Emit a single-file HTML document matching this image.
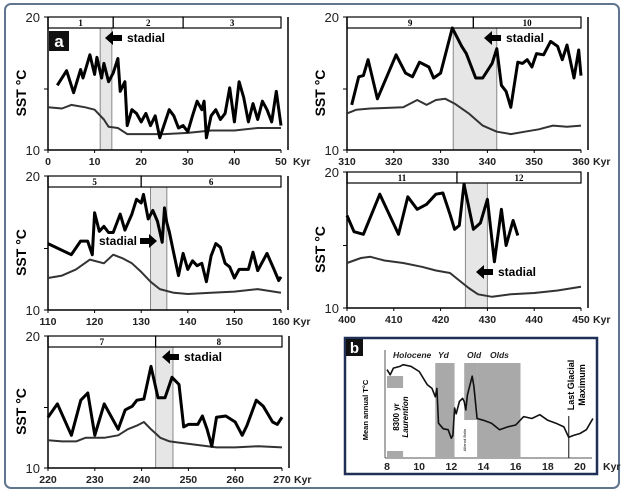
<!DOCTYPE html>
<html><head><meta charset="utf-8">
<style>
html,body{margin:0;padding:0;background:#fff;}
svg{display:block;font-family:"Liberation Sans",sans-serif;}
</style></head>
<body>
<svg id="fig" width="625" height="493" viewBox="0 0 625 493" xmlns="http://www.w3.org/2000/svg">
<rect x="5" y="4" width="614" height="484" rx="6" fill="#fff" stroke="#5f7590" stroke-width="2"/>
<g id="root"></g>
</svg>
<script>
// ---------- Panel data ----------
const p1Upper = [[2,15.3],[4,16.5],[5.5,14.7],[7,16.6],[7.5,15.9],[9,17.8],[10,16.2],[10.5,17.6],[11.5,15.9],[12,17.1],[13,15.6],[14,16.3],[15,17.5],[15.5,14.8],[16.5,15.6],[17,12],[18,13.3],[19,13],[20,12.3],[21,13],[22,12],[23,12.8],[24,11],[26,13.3],[27,12.8],[28,11.8],[29,12],[30,11.5],[31,12.8],[32,14],[33,13.3],[33.5,14],[34,11],[35,12.8],[36,13.3],[37,12.5],[38,13],[39,15.1],[40,12.3],[41,15.6],[42,14.3],[43,12.3],[44,13.8],[45,12.5],[46,14],[47,13.3],[48,12.3],[49,14.8],[50,12]];
const p1Lower = [[0,13.5],[3,13.4],[5,13.7],[8,13.5],[10,13.3],[12,12.5],[13,11.9],[15,11.8],[17,11.3],[20,11.3],[25,11.3],[30,11.4],[35,11.6],[40,11.6],[45,11.8],[50,11.8]];
const p1Shade = [11.2,13.7];
const p1Stages = [[0,14,"1"],[14,29,"2"],[29,50,"3"]];

const p9Upper = [[311,13.7],[312.5,16],[313.5,16.1],[314.5,17.4],[316.5,14.2],[320.5,17.8],[322.5,16.3],[324,16],[325.5,17.2],[327.5,16.8],[328.5,15.9],[330,16.3],[332.5,20],[334.5,18.5],[335.5,17.9],[337.5,15.9],[339,15.9],[341,17.1],[342,18.3],[343,15.3],[344,14.8],[345,13.5],[346.5,17.2],[347.5,17.1],[348.5,17.4],[349.5,16.8],[350.5,17.9],[352,17.8],[353.5,18.9],[355,18.5],[356,17.4],[357,18.6],[358.5,15.9],[359.5,18.2],[360,16.1]];
const p9Lower = [[310,13],[312,13.3],[315,13.4],[322,13.5],[325,14.1],[327,13.7],[329,14.1],[331,14.2],[333,13.8],[336,13],[339,12],[342,11.5],[345,11.3],[348,11.5],[351,11.7],[354,12],[357,11.9],[360,12]];
const p9Shade = [332.7,342];
const p9Stages = [[310,337,"9"],[337,360,"10"]];

const p5Upper = [[110,15.4],[115,14.5],[117,15.6],[118.5,15.6],[119.5,14.5],[120,17.9],[121,16.4],[122,16.8],[123,16.3],[124,16.3],[125.5,17.8],[126.5,16.5],[128,17.8],[129,19],[130,18.7],[130.5,19.4],[131.5,17.4],[132.5,18.1],[133.5,17.2],[134.5,15.5],[135,18.3],[135.5,17.1],[136,16.4],[137,14.6],[138,12.8],[139,14.6],[140,13.3],[141,14],[142,13.6],[143,13.8],[144,12.3],[145,14.4],[146,15.4],[147,15.1],[148,13.8],[149,13.5],[150,12.6],[151,13.3],[152,13.3],[153,13.3],[154,14.7],[155,13.2],[157,14.6],[158.5,13.3],[159.5,12.4],[160,12.7]];
const p5Lower = [[110,12.6],[113,12.8],[116,13.3],[119,14.1],[122,13.8],[124,14.5],[126,14.2],[128,13.8],[130,13.1],[132,12.3],[134,11.7],[137,11.4],[140,11.3],[145,11.4],[150,11.5],[155,11.7],[160,11.4]];
const p5Shade = [132,135.5];
const p5Stages = [[110,130,"5"],[130,160,"6"]];

const p11Upper = [[400,17.4],[401.5,16.1],[403.5,15.9],[407,19.1],[411,15.9],[413,18.9],[415,17.9],[417,18.3],[419,19.1],[420.5,19.2],[422,17.5],[423,16.3],[424,16.6],[425,19.9],[427,16.3],[428.5,16.8],[430,18.7],[431.5,13.7],[433,17.9],[434,15],[435.5,17],[436.5,15.8]];
const p11Lower = [[400,13.6],[403,14],[405,14.1],[408,13.8],[412,13.6],[416,13.3],[419,13],[422,12.8],[424,12.2],[426,11.6],[428,11.1],[431,10.9],[435,11.1],[440,11.2],[445,11.4],[450,11.7]];
const p11Shade = [425.3,430];
const p11Stages = [[400,423.5,"11"],[423.5,450,"12"]];

const p7Upper = [[220,14.2],[222,15.3],[225,12.7],[227,15.6],[228.5,16.2],[230,12.7],[232,15.3],[235,13.2],[236.5,14.8],[238,15.1],[239,15.6],[240.5,15.7],[242,18.4],[243.5,15.8],[245,15.8],[246.5,17.5],[248,16.9],[249,13.4],[250,13.6],[252,13.6],[253,14.3],[254,13.2],[255,11.8],[256,14.2],[258,14.3],[260,13.8],[261.5,12.7],[262.5,13.5],[264.5,15.6],[266,15.1],[268,13.8],[269,13.6],[270,14.2]];
const p7Lower = [[220,12.3],[223,12.2],[226,12.2],[228,12.5],[232,12.5],[235,12.7],[237,13.2],[239,13.5],[240.5,13.8],[242,13.2],[244,12.5],[246,12.2],[248,12.1],[252,11.9],[256,11.7],[260,11.7],[265,11.8],[270,11.7]];
const p7Shade = [243,246.7];
const p7Stages = [[220,243,"7"],[243,270,"8"]];

const pbCurve = [[8,9.3],[8.2,8.75],[8.4,9.46],[8.8,9.64],[9,9.82],[9.5,9.64],[10,9.1],[10.5,7.7],[10.8,7.3],[11,6.4],[11.1,7.3],[11.2,3.6],[11.5,3.0],[11.8,2.9],[12,2.0],[12.1,2.3],[12.2,5.2],[12.3,4.6],[12.5,5.9],[12.7,6.25],[12.8,5.9],[12.9,5.0],[13,6.6],[13.3,8.6],[13.4,7.5],[13.6,4.1],[14,3.9],[14.5,3.6],[15,2.9],[15.5,3.2],[16,3.4],[16.5,4.3],[17,4.1],[17.5,4.5],[18,3.9],[18.5,3.6],[19,3.2],[19.3,2.1],[19.6,2.3],[20,2.5],[20.4,2.9],[20.8,4.1]];
const pbTicks = [8,10,12,14,16,18,20];

// ---------- drawing ----------
const NS = "http://www.w3.org/2000/svg";
const root = document.getElementById('root');
function mk(tag, attrs, parent, text){
  const e = document.createElementNS(NS, tag);
  for (const k in attrs) e.setAttribute(k, attrs[k]);
  if (text !== undefined) e.textContent = text;
  (parent||root).appendChild(e);
  return e;
}
function linScale(d0,d1,r0,r1){ return v => r0 + (v-d0)*(r1-r0)/(d1-d0); }
function pathOf(pts, sx, sy){ return pts.map((p,i)=>(i?'L':'M')+sx(p[0]).toFixed(1)+' '+sy(p[1]).toFixed(1)).join(' '); }

function panel(cfg){
  const g = mk('g', {});
  
  
  const sx = linScale(cfg.x0, cfg.x0+50, cfg.left, cfg.right);
  const sy = linScale(10, 20, cfg.bottom, cfg.top);
  const sh = mk('rect', {x:sx(cfg.shade[0]), y:sy(20), width:sx(cfg.shade[1])-sx(cfg.shade[0]), height:sy(10)-sy(20), fill:'#e6e6e6', stroke:'#888', 'stroke-width':1}, g);
  
  
  cfg.stages.forEach(s=>{
    const r = mk('rect', {x:sx(s[0]), y:cfg.top-11, width:sx(s[1])-sx(s[0]), height:11, fill:'#fff', stroke:'#000', 'stroke-width':1.2}, g);
    
    
    const t = mk('text', {x:(sx(s[0])+sx(s[1]))/2, y:cfg.top-2, 'font-size':9, 'font-weight':'bold', 'text-anchor':'middle', 'font-family':'Liberation Serif, serif'}, g, s[2]);
    
    
  });
  const ax = mk('path', {d:`M${cfg.left} ${cfg.top-11} V${cfg.bottom} H${cfg.right}`, fill:'none', stroke:'#000', 'stroke-width':1.5}, g);
  
  
  const rl = mk('line', {x1:cfg.right+7, y1:cfg.top-11, x2:cfg.right+7, y2:cfg.bottom, stroke:'#000', 'stroke-width':1.5}, g);
  
  
  [10,15].forEach(v=>{
    mk('line', {x1:cfg.left-4, y1:sy(v), x2:cfg.left, y2:sy(v), stroke:'#000'}, g);
  });
  mk('line', {x1:cfg.left-4, y1:cfg.top-11, x2:cfg.left, y2:cfg.top-11, stroke:'#000'}, g);
  const t20 = mk('text', {x:cfg.left-8, y:cfg.top-6, 'font-size':13, 'text-anchor':'end', fill:'#222'}, g, '20');
  
  
  const t10 = mk('text', {x:cfg.left-8, y:cfg.bottom+5, 'font-size':13, 'text-anchor':'end', fill:'#222'}, g, '10');
  
  
  for (let i=0;i<=5;i++){
    const v = cfg.x0 + i*10;
    mk('line', {x1:sx(v), y1:cfg.bottom, x2:sx(v), y2:cfg.bottom+3, stroke:'#000'}, g);
    const t = mk('text', {x:sx(v), y:cfg.bottom+15, 'font-size':10.5, 'font-weight':'bold', 'text-anchor':'middle', fill:'#222'}, g, String(v));
    
    
  }
  const k = mk('text', {x:cfg.right+12, y:cfg.bottom+15, 'font-size':10.5, 'font-weight':'bold', fill:'#222'}, g, 'Kyr');
  
  
  const yt = mk('text', {transform:`translate(${cfg.left-22},${(cfg.top+cfg.bottom)/2+4}) rotate(-90)`, 'font-size':14, 'font-weight':'bold', 'text-anchor':'middle'}, g, 'SST °C');
  
  
  const lo = mk('path', {d:pathOf(cfg.lower,sx,sy), fill:'none', stroke:'#333', 'stroke-width':2, 'stroke-linejoin':'round'}, g);
  
  
  const up = mk('path', {d:pathOf(cfg.upper,sx,sy), fill:'none', stroke:'#000', 'stroke-width':3, 'stroke-linejoin':'round'}, g);
  
  
  const st = cfg.stadial;
  const ag = mk('g', {}, g);
  
  
  if (st.dir === 'left'){
    mk('path', {d:`M${st.x} ${st.y} l8 -7 v4 h9 v6 h-9 v4 z`, fill:'#000'}, ag);
    mk('text', {x:st.x+22, y:st.y+4, 'font-size':12, 'font-weight':'bold'}, ag, 'stadial');
  } else {
    mk('text', {x:st.x-20, y:st.y+4, 'font-size':12, 'font-weight':'bold', 'text-anchor':'end'}, ag, 'stadial');
    mk('path', {d:`M${st.x} ${st.y} l-8 -7 v4 h-9 v6 h9 v4 z`, fill:'#000'}, ag);
  }
}

panel({name:'panel-0-50kyr', x0:0, left:48, right:281, top:28, bottom:150, upper:p1Upper, lower:p1Lower, shade:p1Shade, stages:p1Stages, stadial:{x:105,y:38,dir:'left'}});
panel({name:'panel-310-360kyr', x0:310, left:347, right:581, top:28, bottom:150, upper:p9Upper, lower:p9Lower, shade:p9Shade, stages:p9Stages, stadial:{x:484,y:38,dir:'left'}});
panel({name:'panel-110-160kyr', x0:110, left:48, right:281, top:187, bottom:310, upper:p5Upper, lower:p5Lower, shade:p5Shade, stages:p5Stages, stadial:{x:157,y:241,dir:'right'}});
panel({name:'panel-400-450kyr', x0:400, left:347, right:581, top:183, bottom:308, upper:p11Upper, lower:p11Lower, shade:p11Shade, stages:p11Stages, stadial:{x:476,y:272,dir:'left'}});
panel({name:'panel-220-270kyr', x0:220, left:48, right:282, top:347, bottom:468, upper:p7Upper, lower:p7Lower, shade:p7Shade, stages:p7Stages, stadial:{x:162,y:357,dir:'left'}});

const aBox = mk('rect', {x:49, y:31, width:20, height:20, fill:'#111'});


mk('text', {x:59, y:47, 'font-size':17, 'font-weight':'bold', fill:'#fff', 'text-anchor':'middle'}, root, 'a');

(function(){
  const g = mk('g', {});
  
  
  const fr = mk('rect', {x:345, y:338, width:252, height:136, fill:'#fff', stroke:'#1f2f55', 'stroke-width':2.5}, g);
  
  
  const sx = linScale(8, 20, 387, 580);
  const sy = linScale(0, 10, 457, 363);
  const gray = '#a9a9a9';
  [[11.0,12.2,363,457],[12.8,13.6,363,420],[13.6,16.3,363,457],[8,9,376,388],[8,9,451,457]].forEach(r=>{
    const e = mk('rect', {x:sx(r[0]), y:r[2], width:sx(r[1])-sx(r[0]), height:r[3]-r[2], fill:gray}, g);
    
    
  });
  const wb = mk('rect', {x:sx(12.2), y:420, width:sx(13.6)-sx(12.2), height:40, fill:'#fff'}, g);
  
  
  mk('text', {transform:`translate(${sx(12.9)},440) rotate(-90)`, 'font-size':4, 'text-anchor':'middle'}, g, 'Allerod Bolin');
  mk('line', {x1:385, y1:350, x2:385, y2:458, stroke:'#555', 'stroke-width':1}, g);
  mk('line', {x1:385, y1:458, x2:592, y2:458, stroke:'#555', 'stroke-width':1}, g);
  pbTicks.forEach(v=>{
    const t = mk('text', {x:sx(v), y:470, 'font-size':10.5, 'font-weight':'bold', 'text-anchor':'middle', fill:'#222'}, g, String(v));
    
    
  });
  mk('text', {x:603, y:470, 'font-size':10.5, 'font-weight':'bold', fill:'#222'}, g, 'Kyr');
  const lgm = mk('line', {x1:sx(19.3), y1:416, x2:sx(19.3), y2:458, stroke:'#333', 'stroke-width':1.2}, g);
  
  
  const c = mk('path', {d:pathOf(pbCurve,sx,sy), fill:'none', stroke:'#111', 'stroke-width':1.6, 'stroke-linejoin':'round'}, g);
  
  
  [['Holocene',393],['Yd',438],['Old',467],['Olds',490]].forEach(l=>{
    const t = mk('text', {x:l[1], y:358, 'font-size':8.5, 'font-style':'italic', 'font-weight':'bold', fill:'#222'}, g, l[0]);
    
    
  });
  const yl = mk('text', {transform:'translate(368,410) rotate(-90)', 'font-size':7.5, 'font-weight':'bold', 'text-anchor':'middle'}, g, 'Mean annual T°C');
  
  
  mk('text', {transform:'translate(399,417) rotate(-90)', 'font-size':8, 'font-weight':'bold', 'text-anchor':'middle'}, g, '8300 yr');
  mk('text', {transform:'translate(408,417) rotate(-90)', 'font-size':8, 'font-style':'italic', 'font-weight':'bold', 'text-anchor':'middle'}, g, 'Laurention');
  mk('text', {transform:'translate(574,385) rotate(-90)', 'font-size':9, 'font-weight':'bold', 'text-anchor':'middle'}, g, 'Last Glacial');
  mk('text', {transform:'translate(585,385) rotate(-90)', 'font-size':9, 'font-weight':'bold', 'text-anchor':'middle'}, g, 'Maximum');
  const bb = mk('rect', {x:346, y:339, width:17, height:17, fill:'#111'}, g);
  
  
  mk('text', {x:354.5, y:353, 'font-size':15, 'font-weight':'bold', fill:'#fff', 'text-anchor':'middle'}, g, 'b');
})();
</script>
</body></html>
